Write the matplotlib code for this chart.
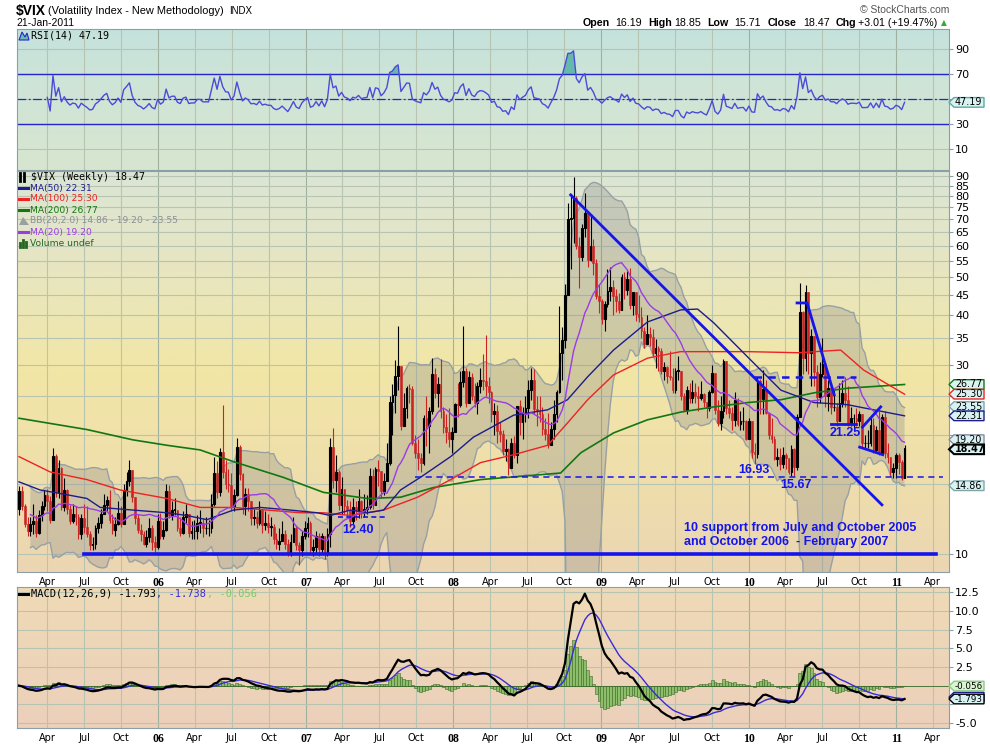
import numpy as np
import pandas as pd
import matplotlib
matplotlib.use("Agg")
import matplotlib.pyplot as plt
from matplotlib.colors import LinearSegmentedColormap
from matplotlib.patches import Polygon
from matplotlib.lines import Line2D
from matplotlib.transforms import IdentityTransform

W, H = 990, 744

# weekly $VIX bars, Fri 21-Jan-2005 .. Fri 21-Jan-2011
first_open = 13.0
close_05 = [14.4, 13.2, 11.9, 11.4, 11.9, 12.1, 11.3, 12.5, 13.2, 14.1,
            13.6, 12.2, 17.7, 14.3, 16.5, 13.1, 14.5, 13.0, 12.1, 12.6,
            12.4, 11.2, 12.3, 11.7, 11.2, 10.5, 10.6, 11.6, 12.0, 12.6,
            13.3, 13.7, 12.2, 11.5, 11.9, 12.7, 11.9, 14.5, 15.3, 16.3,
            13.9, 12.3, 11.5, 11.2, 10.6, 11.0, 11.6, 10.7, 10.4, 12.1]
high_05 = [14.8, 14.8, 13.4, 12.4, 12.4, 13.4, 12.5, 12.9, 13.6, 14.5,
           14.6, 14.0, 18.5, 17.9, 17.3, 16.6, 15.5, 14.6, 13.3, 13.4,
           13.2, 12.6, 12.6, 13.4, 13.2, 11.4, 11.0, 11.8, 12.4, 13.0,
           14.2, 14.0, 14.5, 12.6, 12.4, 13.6, 13.2, 15.0, 16.1, 17.3,
           16.3, 13.7, 12.6, 11.9, 11.4, 11.5, 12.3, 11.8, 11.1, 12.6]
low_05 = [12.5, 12.9, 11.7, 11.1, 11.1, 11.2, 11.0, 11.2, 12.1, 12.9,
          12.8, 12.0, 12.2, 13.9, 13.8, 12.9, 12.8, 12.6, 11.9, 12.0,
          11.8, 10.9, 10.9, 11.3, 11.0, 10.2, 10.2, 10.3, 11.3, 11.6,
          12.6, 12.8, 12.0, 11.2, 11.1, 11.8, 11.7, 12.6, 14.0, 14.8,
          13.5, 11.9, 11.3, 10.8, 10.5, 10.4, 10.7, 10.2, 10.0, 10.3]

close_06 = [11.1, 11.5, 14.4, 12.5, 12.9, 12.9, 11.6, 11.3, 12.4, 12.6,
            11.3, 11.4, 11.4, 12.0, 12.0, 11.6, 11.6, 11.6, 13.4, 16.0,
            14.3, 18.1, 16.1, 15.0, 14.9, 13.1, 14.1, 18.6, 15.9, 13.2,
            14.2, 13.6, 12.3, 12.4, 12.0, 12.9, 11.8, 12.0, 11.7, 11.7,
            10.9, 10.6, 10.8, 11.2, 10.6, 10.0, 10.7, 11.6, 10.5, 10.2,
            11.1, 11.6]
high_06 = [12.7, 12.1, 15.0, 14.9, 13.6, 13.8, 12.9, 12.4, 12.8, 13.4,
           12.5, 12.1, 12.2, 12.5, 12.9, 12.3, 12.4, 12.2, 14.2, 17.6,
           17.2, 18.5, 23.8, 17.3, 16.4, 16.0, 14.6, 19.6, 18.8, 16.0,
           14.7, 14.7, 13.6, 13.0, 12.8, 13.6, 13.0, 12.8, 12.6, 12.4,
           11.9, 11.3, 11.6, 12.1, 11.5, 10.9, 11.2, 12.4, 11.8, 10.7,
           11.4, 12.1]
low_06 = [10.9, 10.9, 11.4, 12.3, 12.2, 12.5, 11.4, 11.1, 11.2, 12.0,
          11.0, 10.9, 10.9, 10.9, 11.3, 11.0, 11.2, 11.1, 11.3, 13.2,
          13.8, 14.0, 15.5, 14.6, 14.3, 12.8, 12.8, 14.0, 15.4, 12.6,
          12.5, 12.8, 11.8, 11.8, 11.6, 11.8, 11.3, 11.5, 11.3, 11.1,
          10.6, 10.3, 10.2, 10.8, 10.3, 9.9, 9.9, 10.7, 10.2, 9.4,
          9.9, 10.9]

close_07 = [12.0, 10.2, 10.4, 11.1, 10.3, 11.1, 10.0, 11.2, 18.6, 15.4,
            16.1, 13.3, 14.6, 13.2, 12.9, 12.1, 13.1, 12.9, 13.6, 12.8,
            13.0, 13.1, 15.7, 13.3, 16.4, 16.2, 14.4, 15.3, 17.0, 24.2,
            25.2, 28.2, 29.8, 21.0, 23.4, 26.2, 26.1, 19.0, 18.0, 17.5,
            17.0, 22.0, 21.0, 23.0, 28.5, 25.5, 26.8, 22.9, 20.9, 20.3,
            19.5, 20.3]
high_07 = [12.4, 12.1, 10.9, 11.4, 11.3, 11.3, 11.1, 11.6, 19.6, 20.8,
           17.8, 16.3, 15.6, 14.6, 13.7, 13.6, 13.8, 13.6, 14.6, 13.7,
           14.2, 14.1, 16.5, 16.4, 16.6, 17.3, 15.6, 16.0, 19.0, 25.0,
           26.9, 30.8, 37.6, 29.0, 25.5, 26.5, 26.9, 26.5, 20.0, 19.5,
           18.0, 22.4, 25.0, 23.5, 31.2, 29.5, 28.0, 31.0, 23.5, 22.6,
           23.3, 20.9]
low_07 = [11.0, 10.0, 9.9, 10.0, 9.9, 10.0, 9.7, 9.9, 10.4, 14.7,
          14.3, 12.9, 12.6, 12.6, 12.4, 11.7, 11.9, 12.2, 12.3, 12.3,
          12.4, 12.6, 13.0, 13.0, 13.3, 14.8, 13.8, 14.1, 15.4, 16.8,
          20.0, 22.7, 26.0, 20.5, 21.0, 22.0, 24.0, 18.8, 17.5, 16.3,
          16.1, 16.8, 18.7, 18.0, 22.5, 24.8, 23.5, 22.0, 20.2, 19.0,
          18.6, 18.0]

close_08 = [23.9, 23.7, 27.2, 29.0, 24.0, 28.0, 25.0, 24.1, 26.5, 27.5,
            27.3, 26.6, 25.7, 22.5, 23.0, 20.4, 20.1, 18.2, 18.4, 16.5,
            19.0, 17.8, 23.6, 21.5, 22.6, 23.4, 26.0, 27.5, 23.2, 22.9,
            22.6, 20.7, 20.1, 18.8, 20.7, 22.6, 25.7, 32.1, 34.7, 45.1,
            70.0, 70.3, 79.1, 59.9, 56.1, 66.3, 72.7, 55.3, 59.9, 54.3,
            44.9, 43.4]
high_08 = [24.0, 27.0, 29.0, 37.6, 29.5, 29.0, 28.7, 27.0, 27.1, 29.5,
           32.0, 35.6, 28.0, 25.8, 24.0, 23.7, 21.5, 20.5, 19.5, 18.5,
           19.6, 19.8, 23.6, 24.5, 23.5, 25.0, 27.5, 29.5, 29.3, 25.0,
           25.0, 23.5, 22.0, 22.7, 21.5, 24.5, 26.0, 42.2, 37.5, 48.0,
           76.9, 81.2, 89.5, 80.1, 63.0, 68.0, 81.5, 71.5, 72.0, 62.5,
           55.5, 48.0]
low_08 = [20.5, 22.2, 23.5, 26.4, 23.5, 24.0, 24.5, 23.5, 22.6, 25.5,
          26.0, 25.0, 24.0, 21.5, 20.0, 19.0, 19.2, 17.8, 17.2, 15.8,
          16.5, 17.5, 17.0, 20.0, 19.5, 21.5, 22.0, 24.5, 22.5, 21.0,
          21.5, 20.0, 19.4, 18.5, 18.8, 19.5, 21.5, 25.5, 27.5, 33.0,
          45.0, 52.5, 61.0, 59.0, 47.0, 55.0, 63.0, 53.0, 55.0, 50.5,
          44.0, 40.5]

close_09 = [39.2, 42.8, 46.1, 47.3, 44.8, 43.4, 41.3, 49.9, 46.4, 49.3,
            42.4, 45.9, 40.3, 39.7, 36.5, 33.9, 35.8, 35.3, 32.1, 33.1,
            32.6, 28.9, 29.6, 28.2, 27.9, 25.9, 29.0, 29.0, 25.0, 23.1,
            25.9, 24.8, 25.6, 25.0, 24.8, 25.3, 24.2, 23.4, 25.6, 28.7,
            23.1, 21.4, 23.0, 30.7, 23.4, 22.7, 21.8, 24.5, 21.3, 21.6,
            21.7, 19.5]
high_09 = [44.0, 43.5, 52.5, 52.9, 49.0, 46.5, 45.5, 51.0, 51.5, 51.9,
           52.6, 45.5, 45.0, 45.0, 42.0, 37.5, 40.0, 37.5, 37.0, 34.8,
           33.5, 33.0, 30.5, 29.8, 32.5, 29.5, 29.5, 31.5, 29.0, 25.5,
           26.5, 27.0, 27.5, 27.0, 26.5, 27.3, 25.5, 24.0, 26.0, 30.0,
           27.0, 24.5, 25.0, 31.0, 30.5, 24.5, 23.5, 25.6, 24.8, 23.0,
           23.5, 21.8]
low_09 = [38.0, 36.5, 42.0, 43.5, 40.0, 40.8, 40.5, 42.0, 44.0, 45.0,
          41.5, 40.0, 38.8, 38.5, 35.0, 33.0, 34.0, 33.5, 31.5, 29.5,
          29.0, 28.5, 27.5, 27.0, 27.5, 25.5, 25.5, 27.5, 24.5, 23.0,
          22.5, 24.0, 24.0, 24.0, 23.0, 24.5, 23.5, 22.0, 23.0, 25.5,
          22.5, 21.0, 20.5, 22.0, 22.5, 22.0, 20.5, 21.0, 21.0, 20.5,
          20.5, 19.4]

close_10 = [21.7, 18.1, 17.9, 27.3, 24.6, 26.1, 22.7, 20.0, 19.5, 17.4,
            17.6, 16.9, 17.8, 17.5, 16.1, 18.4, 16.6, 22.1, 40.9, 31.2,
            45.8, 32.1, 35.5, 28.8, 24.9, 28.5, 30.1, 25.0, 26.3, 23.5,
            23.5, 21.7, 24.1, 25.5, 24.5, 21.3, 22.0, 22.0, 21.7, 22.5,
            19.0, 19.0, 19.1, 21.2, 18.3, 20.6, 18.0, 22.2, 18.0, 17.6,
            16.1, 16.5, 17.8]
high_10 = [22.0, 21.5, 19.0, 28.0, 27.7, 29.2, 27.5, 22.8, 22.0, 19.8,
           18.5, 18.5, 18.6, 18.0, 17.5, 18.8, 18.5, 22.5, 48.2, 41.0,
           47.7, 40.0, 37.0, 34.5, 30.0, 30.5, 35.0, 30.5, 27.5, 26.5,
           26.0, 24.0, 27.0, 27.5, 28.0, 26.5, 23.5, 22.5, 23.3, 23.0,
           22.5, 20.0, 20.5, 22.0, 22.0, 21.0, 23.0, 22.5, 23.0, 19.0,
           17.6, 17.0, 18.0]
low_10 = [19.5, 17.5, 16.9, 17.5, 22.5, 22.5, 22.5, 19.5, 19.0, 17.3,
          16.7, 16.3, 16.5, 16.4, 15.9, 15.7, 15.7, 16.3, 22.5, 28.5,
          29.0, 28.5, 26.5, 26.5, 23.5, 24.0, 28.0, 23.5, 23.0, 22.5,
          23.0, 21.0, 22.0, 23.5, 23.5, 21.0, 21.0, 20.5, 21.0, 21.0,
          18.5, 18.5, 18.5, 18.7, 18.0, 18.0, 17.8, 18.5, 17.5, 17.0,
          15.7, 15.5, 15.5]

close_11 = [17.1, 15.5, 18.47]
high_11 = [18.0, 17.3, 18.85]
low_11 = [15.9, 15.4, 15.71]

ma50_dates = ["2005-01-21", "2005-03-14", "2005-05-20", "2005-07-08", "2005-08-10", "2005-10-30",
              "2006-01-22", "2006-03-12", "2006-05-01", "2006-07-05", "2006-09-10", "2006-11-23",
              "2007-01-29", "2007-03-02", "2007-04-21", "2007-06-02", "2007-07-12", "2007-08-23",
              "2007-10-11", "2007-12-25", "2008-02-19", "2008-05-29", "2008-08-21", "2008-10-09",
              "2008-11-28", "2009-01-31", "2009-04-25", "2009-07-16", "2009-08-27", "2009-10-06",
              "2009-12-29", "2010-03-21", "2010-06-11", "2010-09-02", "2011-01-21"]
ma50_vals = [15.2, 14.5, 14.1, 13.8, 13.1, 12.9, 12.7, 12.5, 12.2, 12.9, 13.1, 12.9,
             12.7, 12.5, 12.9, 12.7, 12.9, 14.5, 15.6, 17.6, 19.7, 22.4, 23.1, 24.5,
             28.0, 32.7, 38.5, 41.3, 41.5, 38.3, 31.4, 25.9, 24.1, 23.8, 22.31]
ma100_dates = ["2005-01-21", "2005-04-08", "2005-07-08", "2005-09-28", "2006-01-22", "2006-04-14",
               "2006-07-05", "2006-09-27", "2006-12-18", "2007-02-13", "2007-04-21", "2007-07-12",
               "2007-10-04", "2007-12-25", "2008-03-08", "2008-05-29", "2008-08-21", "2008-10-09",
               "2008-11-28", "2009-01-31", "2009-04-25", "2009-07-16", "2009-12-29", "2010-05-02",
               "2010-08-16", "2010-10-12", "2011-01-21"]
ma100_vals = [17.6, 16.1, 15.4, 14.5, 13.8, 13.1, 13.1, 12.9, 12.7, 12.7, 12.5, 12.9,
              13.9, 15.4, 17.0, 17.8, 18.8, 21.4, 24.5, 28.3, 31.2, 32.4, 32.4, 32.2,
              32.7, 29.1, 25.30]
ma200_dates = ["2005-01-21", "2005-07-08", "2005-10-30", "2006-01-22", "2006-04-14", "2006-07-05",
               "2006-11-06", "2007-02-13", "2007-06-02", "2007-08-23", "2007-11-12", "2008-03-08",
               "2008-09-22", "2008-11-11", "2009-01-31", "2009-04-25", "2009-07-16", "2009-10-06",
               "2009-12-29", "2010-03-21", "2010-06-11", "2010-09-02", "2011-01-21"]
ma200_vals = [22.0, 20.6, 19.4, 18.8, 18.3, 17.1, 15.6, 14.3, 13.8, 13.9, 14.7, 15.4,
              16.0, 18.0, 20.2, 21.8, 22.8, 23.5, 24.1, 24.5, 25.5, 26.2, 26.77]

# hand-drawn annotations
trend_dates, trend_vals = ["2008-10-17", "2010-11-26"], [80.6, 13.3]
support_dates, support_vals = ["2005-07-01", "2011-04-09"], [10.0, 10.0]
floor_dates, floor_vals = ["2007-09-28", "2011-04-26"], [15.6, 15.6]
d1240_dates, d1240_vals = ["2007-03-20", "2007-07-24"], [12.4, 12.4]
d28_dates, d28_vals = ["2010-01-13", "2010-09-22"], [28.0, 28.0]
l2125_dates, l2125_vals = ["2010-07-23", "2010-09-22"], [21.25, 21.25]
spike_dates, spike_vals = ["2010-04-30", "2010-05-25", "2010-07-31"], [43.0, 43.0, 25.2]
flag_hi_dates, flag_hi_vals = ["2010-10-09", "2010-11-23"], [20.9, 23.5]
flag_lo_dates, flag_lo_vals = ["2010-10-02", "2010-11-28"], [18.6, 17.8]
notes = [("12.40", "2007-05-10", 11.5), ("16.93", "2010-01-13", 16.3),
         ("15.67", "2010-04-27", 14.9), ("21.25", "2010-08-28", 20.2)]
support_note = "10 support from July and October 2005\nand October 2006  - February 2007"

quote = [("Open", "16.19"), ("High", "18.85"), ("Low", "15.71"), ("Close", "18.47"),
         ("Chg", "+3.01 (+19.47%)")]

# ---------------------------------------------------------------- data prep
closes = np.array(close_05 + close_06 + close_07 + close_08 + close_09 + close_10 + close_11)
highs = np.array(high_05 + high_06 + high_07 + high_08 + high_09 + high_10 + high_11)
lows = np.array(low_05 + low_06 + low_07 + low_08 + low_09 + low_10 + low_11)
weeks = pd.date_range("2005-01-21", periods=len(closes), freq="W-FRI")
opens = np.r_[first_open, closes[:-1]]
highs = np.maximum(highs, np.maximum(opens, closes))
lows = np.minimum(lows, np.minimum(opens, closes))

c = pd.Series(closes, index=weeks)
ma20 = c.rolling(20, min_periods=5).mean()
sd20 = c.rolling(20, min_periods=5).std(ddof=0)
bb_up = ma20 + 2 * sd20
bb_lo = (ma20 - 2 * sd20).clip(lower=1.0)

delta = c.diff()
gain = delta.clip(lower=0).ewm(alpha=1 / 14, adjust=True, min_periods=10).mean()
loss = (-delta.clip(upper=0)).ewm(alpha=1 / 14, adjust=True, min_periods=10).mean()
rsi = 100 - 100 / (1 + gain / loss)

macd = c.ewm(span=12, adjust=False).mean() - c.ewm(span=26, adjust=False).mean()
signal = macd.ewm(span=9, adjust=False).mean()
hist = macd - signal

# ---------------------------------------------------------------- figure
plt.rcParams["font.family"] = "DejaVu Sans"
fig = plt.figure(figsize=(W / 100, H / 100), dpi=100)
fig.patch.set_facecolor("white")


def rect(top, bottom):
    return [17 / W, 1 - bottom / H, 932 / W, (bottom - top) / H]


def panel(r, colors):
    bg = fig.add_axes(r, zorder=0)
    cm = LinearSegmentedColormap.from_list("bg", colors)
    bg.imshow(np.linspace(0, 1, 256)[:, None], cmap=cm, aspect="auto",
              extent=[0, 1, 0, 1], interpolation="bilinear")
    bg.set_axis_off()
    ax = fig.add_axes(r, zorder=1, facecolor="none")
    for s in ax.spines.values():
        s.set_color("#8c9ea6")
    ax.set_axisbelow(True)
    return ax


ax_rsi = panel(rect(29, 170), ["#c4e2dc", "#d1e5d6", "#d7e6cf"])
ax = panel(rect(171, 572), ["#dbe5d6", "#e8e6c0", "#f2e6a6", "#efdfab", "#ecd6b2"])
ax_m = panel(rect(587, 728), ["#efdab6", "#ecd0bb"])

x0 = pd.Timestamp("2005-01-16")
x1 = pd.Timestamp("2011-05-11")
quarters = pd.date_range("2005-04-01", "2011-04-01", freq="QS")
qlabels = [d.strftime("%y") if d.month == 1 else d.strftime("%b") for d in quarters]

for a in (ax_rsi, ax, ax_m):
    a.set_xlim(x0, x1)
    for d in quarters:
        a.axvline(d, color="#9fb09f" if d.month == 1 else "#b8c4b2", lw=0.8, zorder=0.3)
    a.yaxis.tick_right()
    a.tick_params(axis="y", direction="out", length=3, pad=1.5, labelsize=8,
                  color="#8c9ea6")
    a.set_xticks(quarters)
    a.grid(axis="y", color="#b8c4b2", lw=0.8)

for a in (ax, ax_m):
    a.set_xticklabels(qlabels)
    a.tick_params(axis="x", length=0, pad=3.5, labelsize=7)
    for t, d in zip(a.get_xticklabels(), quarters):
        if d.month == 1:
            t.set_fontweight("bold")
            t.set_family("Liberation Serif")
            t.set_fontsize(8.5)
ax_rsi.tick_params(axis="x", length=0, labelbottom=False)

# ---------------- RSI panel
ax_rsi.set_ylim(-7, 106)
rt = [10, 30, 50, 70, 90]
ax_rsi.set_yticks(rt)
ax_rsi.set_yticklabels(["" if t == 50 else str(t) for t in rt])  # 50 sits under the tag
ax_rsi.axhline(70, color="#2525cc", lw=1)
ax_rsi.axhline(30, color="#2525cc", lw=1)
ax_rsi.axhline(50, color="#2525cc", lw=0.9, ls=(0, (7, 2, 1.5, 2)))
ax_rsi.fill_between(weeks, 70, rsi, where=rsi > 70, interpolate=True,
                    color="#66b8aa", lw=0)
ax_rsi.plot(weeks, rsi, color="#4b4bd8", lw=1)

# ---------------- price panel
ax.set_yscale("log")
ax.set_ylim(9.0, 92.6)
ticks = list(range(10, 95, 5))
ax.set_yticks(ticks)
ax.set_yticklabels(["" if t in (15, 20, 25) else str(t) for t in ticks])  # hidden by tags
ax.minorticks_off()

ax.fill_between(weeks, bb_lo, bb_up, color="#8c8c8c", alpha=0.32, lw=0, zorder=1)
ax.plot(weeks, bb_up, color="#98a0a4", lw=1, zorder=1.5)
ax.plot(weeks, bb_lo, color="#98a0a4", lw=1, zorder=1.5)

up = closes >= opens
body_lo = np.minimum(opens, closes)
body_h = np.maximum(np.abs(closes - opens), 0.05)
ax.vlines(weeks, lows, highs, colors=np.where(up, "black", "#cc2222"), lw=0.8, zorder=3)
ax.bar(weeks[~up], body_h[~up], bottom=body_lo[~up], width=4.3, color="#cc2222",
       edgecolor="#cc2222", lw=0.4, zorder=3)
ax.bar(weeks[up], body_h[up], bottom=body_lo[up], width=4.3, facecolor="none",
       edgecolor="black", lw=0.8, zorder=3)

ax.plot(pd.to_datetime(ma200_dates), ma200_vals, color="#117711", lw=1.2, zorder=4)
ax.plot(pd.to_datetime(ma100_dates), ma100_vals, color="#ee2222", lw=1, zorder=4)
ax.plot(pd.to_datetime(ma50_dates), ma50_vals, color="#1c1c8a", lw=1, zorder=4)
ax.plot(weeks, ma20, color="#9a3ce6", lw=1, zorder=4)

blue = "#1414ee"
ax.plot(pd.to_datetime(trend_dates), trend_vals, color=blue, lw=2, zorder=5)
ax.plot(pd.to_datetime(support_dates), support_vals, color=blue, lw=2.6, zorder=5)
ax.plot(pd.to_datetime(floor_dates), floor_vals, color=blue, lw=1.1, ls=(0, (4, 3)), zorder=5)
ax.plot(pd.to_datetime(d1240_dates), d1240_vals, color=blue, lw=1.2, ls=(0, (3, 2)), zorder=5)
ax.plot(pd.to_datetime(d28_dates), d28_vals, color=blue, lw=1.8, ls=(0, (3, 2.5)), zorder=5)
ax.plot(pd.to_datetime(l2125_dates), l2125_vals, color=blue, lw=2, zorder=5)
ax.plot(pd.to_datetime(spike_dates), spike_vals, color=blue, lw=2, zorder=5)
ax.plot(pd.to_datetime(flag_hi_dates), flag_hi_vals, color=blue, lw=2, zorder=5)
ax.plot(pd.to_datetime(flag_lo_dates), flag_lo_vals, color=blue, lw=2, zorder=5)
for txt, d, v in notes:
    ax.text(pd.Timestamp(d), v, txt, color=blue, fontsize=9, fontweight="bold",
            family="Liberation Sans", ha="center", va="center", zorder=6)
ax.text(pd.Timestamp("2009-07-24"), 11.15, support_note, color=blue, fontsize=9,
        fontweight="bold", family="Liberation Sans", ha="left", va="center",
        linespacing=1.25, zorder=6)

# ---------------- MACD panel
ax_m.set_ylim(-5.67, 13.2)
mt = [-5, -2.5, 0, 2.5, 5, 7.5, 10, 12.5]
ax_m.set_yticks(mt)
ax_m.set_yticklabels(["" if t in (0, -2.5) else "%.1f" % t for t in mt])
ax_m.bar(weeks, hist, width=7, color="#8dbf6a", edgecolor="#3d6b2a", lw=0.4, zorder=2)
ax_m.axhline(0, color="#3d6b2a", lw=0.6, zorder=2)
ax_m.plot(weeks, signal, color="#3a2bd6", lw=1, zorder=3)
ax_m.plot(weeks, macd, color="black", lw=1.6, zorder=4)


# ---------------- texts in pixel positions
def ftxt(x, y, s, **kw):
    kw.setdefault("va", "center")
    kw.setdefault("ha", "left")
    return fig.text(x / W, 1 - y / H, s, **kw)


ftxt(16, 11, "$VIX", fontsize=10, fontweight="bold", family="Liberation Sans")
ftxt(48, 11, "(Volatility Index - New Methodology)", fontsize=7.9, family="Liberation Sans")
ftxt(229, 11, "INDX", fontsize=7, family="Liberation Sans")
ftxt(16, 23, "21-Jan-2011", fontsize=7.5, family="Liberation Sans")
ftxt(949, 10, "\u00a9 StockCharts.com", fontsize=7.5, family="Liberation Sans",
     color="#555555", ha="right")
qx = [(583, 615), (648, 674), (707, 734), (768, 803), (836, 858)]
for (lab, val), (xl, xv) in zip(quote, qx):
    ftxt(xl, 23, lab, fontsize=7.7, fontweight="bold", family="Liberation Sans")
    ftxt(xv, 23, val, fontsize=7.7, family="Liberation Sans")
ftxt(941, 23, "\u25b2", fontsize=5.5, color="#33aa33")

# RSI title
fig.add_artist(Polygon([(19, H - 40), (22, H - 32), (25, H - 37), (27, H - 33), (29, H - 40)],
                       closed=True, transform=IdentityTransform(), fc="#6cbcb0",
                       ec="#2525cc", lw=0.8, zorder=5))
ftxt(31, 36, "RSI(14) 47.19", fontsize=7.2, family="DejaVu Sans Mono")

# price legend
legend = [("$VIX (Weekly) 18.47", "black"), ("MA(50) 22.31", "#1c1c8a"),
          ("MA(100) 25.30", "#ee2222"), ("MA(200) 26.77", "#117711"),
          ("BB(20,2.0) 14.86 - 19.20 - 23.55", "#8a9096"), ("MA(20) 19.20", "#9a3ce6"),
          ("Volume undef", "#226622")]
for i, (txt, col) in enumerate(legend):
    y = 177 + 11 * i
    if i == 0:
        ftxt(31, y, txt, fontsize=7.2, family="DejaVu Sans Mono", color=col)
        for xx in (20, 24):
            fig.add_artist(Line2D([xx, xx], [H - y - 4, H - y + 4], transform=IdentityTransform(),
                                  color="black", lw=2, zorder=5))
    else:
        ftxt(30, y, txt, fontsize=6.6, color=col)
        if i == 4:
            fig.add_artist(Polygon([(19, H - y - 4), (23, H - y + 4), (29, H - y - 4)],
                                   closed=True, transform=IdentityTransform(),
                                   fc="#9aa0a0", ec="none", zorder=5))
        elif i == 6:
            for xx, hh in ((20, 4), (23, 7), (26, 5)):
                fig.add_artist(Line2D([xx, xx], [H - y - 4, H - y - 4 + hh],
                                      transform=IdentityTransform(), color=col, lw=2, zorder=5))
        else:
            fig.add_artist(Line2D([19, 28], [H - y, H - y], transform=IdentityTransform(),
                                  color=col, lw=2.2, zorder=5))

# MACD title
fig.add_artist(Line2D([19, 28], [H - 594, H - 594], transform=IdentityTransform(),
                      color="black", lw=2.2, zorder=5))
ftxt(31, 594, "MACD(12,26,9) -1.793", fontsize=7.5, family="DejaVu Sans Mono")
ftxt(31 + 20 * 6.27, 594, ", -1.738", fontsize=7.5, family="DejaVu Sans Mono", color="#3a2bd6")
ftxt(31 + 28 * 6.27, 594, ", -0.056", fontsize=7.5, family="DejaVu Sans Mono", color="#77cc66")


# value tags on the right axis
def tag(a, val, label, edge, face="#d9f3f3", bold=False, lw=1.0, dy=0, z=10, size=6.9):
    y = a.transData.transform((a.get_xlim()[0], val))[1] + dy
    pts = [(949, y), (954, y + 4.8), (984, y + 4.8), (984, y - 4.8), (954, y - 4.8)]
    fig.add_artist(Polygon(pts, closed=True, transform=IdentityTransform(), fc=face,
                           ec=edge, lw=lw, zorder=z))
    if label:
        fig.text(955 / W, y / H, label, va="center", ha="left", fontsize=size,
                 fontweight="bold" if bold else "normal", zorder=z + 0.5)


tag(ax_rsi, 47.19, "47.19", "#5aaaa0")
tag(ax, 26.77, "26.77", "#117711")
tag(ax, 25.30, "25.30", "#ee2222")
tag(ax, 23.55, "23.55", "#7fa6a8")
tag(ax, 22.31, "22.31", "#1c1c8a")
tag(ax, 19.20, "19.20", "#8a8aa0", dy=2)
tag(ax, 18.47, "18.47", "black", bold=True, lw=1.5, dy=-1, z=12)
tag(ax, 14.86, "14.86", "#7fa6a8")
tag(ax_m, -0.056, "-0.056", "#88cc88", face="#d8f5d0", size=6.3)
tag(ax_m, -1.738, "", "#1c1c8a", dy=1.5, z=8)
tag(ax_m, -1.793, "-1.793", "black", size=6.3)

fig.savefig("out.png", dpi=100)
